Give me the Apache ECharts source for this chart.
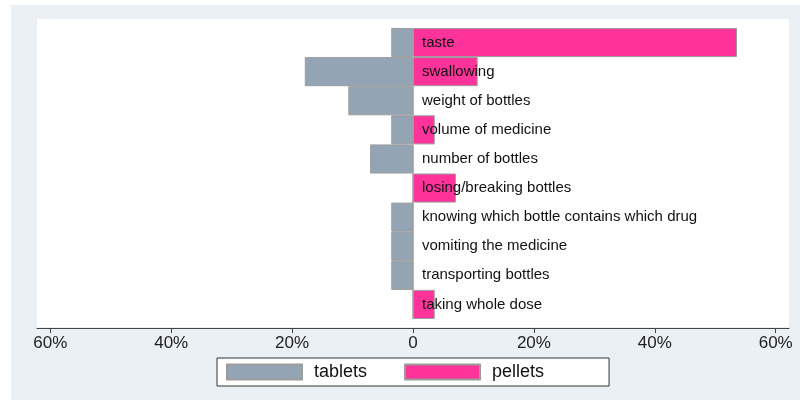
<!DOCTYPE html>
<html>
<head>
<meta charset="utf-8">
<script src="https://cdn.jsdelivr.net/npm/echarts@6/dist/echarts.min.js"></script>
<style>
  html, body { margin: 0; padding: 0; background: #fff; }
  #wrap { position: relative; width: 800px; height: 400px; }
  #bg { position: absolute; left: 11px; top: 5px; right: 0; bottom: 0; background: #eaf0f3; }
  #chart { position: absolute; left: 0; top: 0; width: 800px; height: 400px; }
</style>
</head>
<body>
<div id="wrap">
  <div id="bg"></div>
  <div id="chart"></div>
</div>
<script>
// problems reported, % of respondents
const problems = [
  "taste",
  "swallowing",
  "weight of bottles",
  "volume of medicine",
  "number of bottles",
  "losing/breaking bottles",
  "knowing which bottle contains which drug",
  "vomiting the medicine",
  "transporting bottles",
  "taking whole dose"
];
const tablets = [3.6, 17.9, 10.7, 3.6, 7.1, 0, 3.6, 3.6, 3.6, 0];
const pellets = [53.6, 10.7, 0, 3.6, 0, 7.1, 0, 0, 0, 3.6];
const xTicks = [-60, -40, -20, 0, 20, 40, 60];
const xMin = -62.2;
const xMax = 62.2;

const chart = echarts.init(document.getElementById("chart"));

const option = {
  backgroundColor: "transparent",
  animation: false,
  textStyle: { fontFamily: "Liberation Sans, Arial, sans-serif" },
  grid: [
    // white plot region
    { left: 37, right: 11, top: 19, bottom: 73, show: true, backgroundColor: "#ffffff", borderWidth: 0 },
    // bars
    { left: 37, right: 11, top: 28, bottom: 81 }
  ],
  legend: {
    left: 217,
    top: 358,
    data: ["tablets", "pellets"],
    icon: "rect",
    backgroundColor: "#ffffff",
    borderColor: "#333",
    borderWidth: 1,
    borderRadius: 0,
    padding: [5, 65, 5, 9],
    itemWidth: 75,
    itemHeight: 15,
    itemGap: 37,
    textStyle: { fontSize: 18, color: "#111", padding: [0, 0, 0, 7] }
  },
  xAxis: [
    { gridIndex: 0, type: "value", min: xMin, max: xMax, show: false },
    {
      gridIndex: 1,
      type: "value",
      min: xMin,
      max: xMax,
      offset: 9,
      splitLine: { show: false },
      axisLine: { show: true, onZero: false, lineStyle: { color: "#444", width: 1 } },
      axisTick: { show: true, length: 5, customValues: xTicks, lineStyle: { color: "#444" } },
      axisLabel: {
        customValues: xTicks,
        fontSize: 17,
        color: "#222",
        margin: 7,
        formatter: v => (v === 0 ? "0" : Math.abs(v) + "%")
      }
    }
  ],
  yAxis: [
    { gridIndex: 0, type: "value", min: 0, max: 1, show: false },
    {
      gridIndex: 1,
      type: "category",
      data: problems,
      inverse: true,
      position: "left",
      z: 10,
      axisLine: { show: false },
      axisTick: { show: false },
      axisLabel: { inside: true, margin: 9, fontSize: 15, color: "#111" }
    }
  ],
  series: [
    {
      name: "tablets",
      type: "bar",
      xAxisIndex: 1,
      yAxisIndex: 1,
      data: tablets.map(v => -v),
      barGap: "-100%",
      barCategoryGap: "0%",
      itemStyle: { color: "#93a5b5", borderColor: "#9c9c9c", borderWidth: 1 }
    },
    {
      name: "pellets",
      type: "bar",
      xAxisIndex: 1,
      yAxisIndex: 1,
      data: pellets,
      barGap: "-100%",
      barCategoryGap: "0%",
      itemStyle: { color: "#ff3399", borderColor: "#9c9c9c", borderWidth: 1 }
    }
  ]
};

chart.setOption(option);

// move the category labels onto x = 0 (onZero does not apply here)
const zeroPx = chart.convertToPixel({ xAxisIndex: 1 }, 0);
const leftPx = chart.convertToPixel({ xAxisIndex: 1 }, xMin);
chart.setOption({
  yAxis: [{}, { offset: -(zeroPx - leftPx) }]
});
</script>
</body>
</html>
